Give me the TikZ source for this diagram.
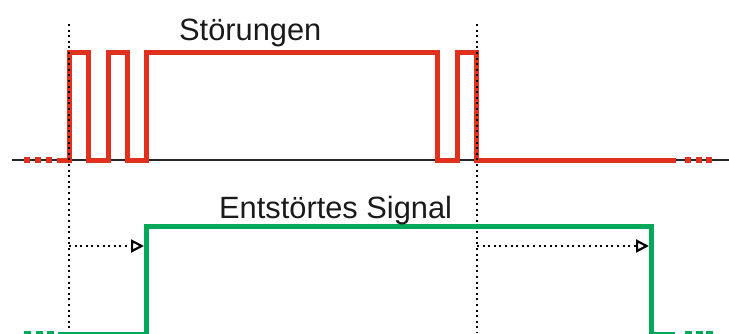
\documentclass[tikz,border=0pt]{standalone}
\usepackage{fontspec}
\setmainfont{Liberation Sans}
\usetikzlibrary{arrows.meta}
\definecolor{sigred}{HTML}{E0301E}
\definecolor{siggreen}{HTML}{00A85A}
\definecolor{txt}{HTML}{1A1A1A}
\tikzset{
  redsig/.style={draw=sigred, line width=5pt, miter limit=10},
  greensig/.style={draw=siggreen, line width=5pt, miter limit=10},
  dotline/.style={draw=black, line width=2pt, dash pattern=on 2pt off 3.6pt},
  delayarrow/.style={dotline, -{Triangle[open, length=13pt, width=13pt, line width=2.2pt]}},
  label/.style={inner sep=0pt, anchor=base west, text=txt, font=\fontsize{30.8}{36}\selectfont},
  baseline/.style={draw=black!85, line width=1.1pt},
  redsq/.style={fill=sigred},
  greensq/.style={fill=siggreen}
}
\begin{document}
\begin{tikzpicture}[x=1pt, y=-1pt]
\useasboundingbox (0,0) rectangle (729,333);
\clip (0,0) rectangle (729,333);
% top baseline
\draw[baseline] (12,160) -- (729,160);
% red leading/trailing dots
\foreach \xx in {24,35,46,685,696,706} {\fill[redsq] (\xx,157) rectangle ++(6,6);}
% disturbed signal
\draw[redsig] (57,160) -- (69,160) -- (69,52) -- (88,52) -- (88,160) -- (108,160)
  -- (108,52) -- (127,52) -- (127,160) -- (146,160) -- (146,52) -- (437,52)
  -- (437,160) -- (457,160) -- (457,52) -- (476,52) -- (476,160) -- (676,160);
% vertical dotted markers
\coordinate (l0) at (69,24); \coordinate (l1) at (69,333);
\coordinate (r0) at (477,24); \coordinate (r1) at (477,333);
\draw[dotline] (l0) -- (l1);
\draw[dotline] (r0) -- (r1);
% filtered signal
\foreach \xx in {24,36,47,685,696,706} {\fill[greensq] (\xx,331.3) rectangle ++(7,3);}
\draw[greensig] (58,334.8) -- (146,334.8) -- (146,226) -- (651,226) -- (651,334.8) -- (675,334.8);
% delay arrows
\coordinate (a0) at (69,246); \coordinate (a1) at (144,246);
\coordinate (b0) at (477,246); \coordinate (b1) at (649,246);
\draw[delayarrow] (a0) -- (a1);
\draw[delayarrow] (b0) -- (b1);
% labels
\node[label] (t1) at (179,40) {Störungen};
\node[label] (t2) at (219,218) {Entstörtes Signal};
\end{tikzpicture}
\end{document}
